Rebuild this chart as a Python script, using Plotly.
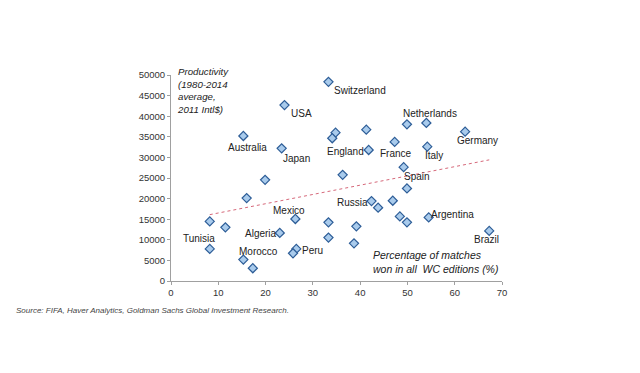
import plotly.graph_objects as go

countries = ["USA", "Australia", "Japan", "", "Switzerland", "", "", "", "England", "France",
             "", "Netherlands", "Germany", "Italy", "", "Spain", "", "", "", "",
             "Tunisia", "Mexico", "Algeria", "Peru", "", "Morocco", "", "Russia", "", "",
             "", "", "Argentina", "Brazil", "", "", "", ""]
win_pct = [24.0, 15.3, 23.4, 19.9, 33.3, 34.8, 34.1, 41.3, 41.8, 47.3,
           49.9, 54.0, 62.2, 54.2, 36.3, 49.2, 49.9, 16.0, 8.2, 11.5,
           8.2, 26.3, 23.0, 26.5, 25.8, 15.3, 17.3, 42.4, 43.8, 46.9,
           48.4, 49.9, 54.5, 67.3, 33.3, 33.3, 39.2, 38.7]
productivity = [42700, 35200, 32200, 24560, 48350, 36000, 34650, 36740, 31800, 33760,
                38040, 38360, 36250, 32600, 25770, 27630, 22460, 20130, 14470, 13020,
                7790, 15050, 11660, 7790, 6730, 5200, 3100, 19400, 17790, 19480,
                15680, 14230, 15440, 12150, 14230, 10530, 13260, 9150]
trend_x = [8.2, 67.3]
trend_y = [16100, 29400]
x_ticks = [0, 10, 20, 30, 40, 50, 60, 70]
y_ticks = [0, 5000, 10000, 15000, 20000, 25000, 30000, 35000, 40000, 45000, 50000]

# label offsets from each marker, in screen pixels (styling)
label_offsets = {
    "USA": (17, 8), "Australia": (4, 12), "Japan": (15, 10), "Switzerland": (32, 9),
    "England": (-23, 2), "France": (1, 12), "Netherlands": (4, -9), "Germany": (12, 9),
    "Italy": (7, 9), "Spain": (13, 9), "Russia": (-19, 1), "Argentina": (24, -3),
    "Brazil": (-3, 9), "Mexico": (-6, -8), "Algeria": (-19, 1), "Peru": (16, 2),
    "Morocco": (15, -8), "Tunisia": (-11, -10),
}

FONT = "Liberation Sans, Arial, sans-serif"

fig = go.Figure()
fig.add_trace(go.Scatter(
    x=trend_x, y=trend_y, mode="lines",
    line=dict(color="#d6687a", width=1, dash="dot"),
    hoverinfo="skip", showlegend=False))
fig.add_trace(go.Scatter(
    x=win_pct, y=productivity, mode="markers",
    marker=dict(symbol="diamond", size=7, color="#a9cbec",
                line=dict(color="#2d5d97", width=1.2)),
    showlegend=False))

for name, xv, yv in zip(countries, win_pct, productivity):
    if not name:
        continue
    dx, dy = label_offsets[name]
    fig.add_annotation(x=xv, y=yv, xref="x", yref="y", text=name, showarrow=False,
                       xanchor="center", yanchor="middle", xshift=dx, yshift=-dy,
                       font=dict(family=FONT, size=10, color="#222222"))

fig.add_annotation(x=0, y=1, xref="paper", yref="paper", xanchor="left", yanchor="top",
                   xshift=4, yshift=11, align="left", showarrow=False,
                   text="<i>Productivity<br>(1980-2014<br>average,<br>2011 Intl$)</i>",
                   font=dict(family=FONT, size=9.7, color="#222222"))
fig.add_annotation(x=1, y=0, xref="paper", yref="paper", xanchor="right", yanchor="bottom",
                   xshift=-2, yshift=4, align="left", showarrow=False,
                   text="<i>Percentage of matches<br>won in all  WC editions (%)</i>",
                   font=dict(family=FONT, size=10.5, color="#222222"))
fig.add_annotation(x=0, y=0, xref="paper", yref="paper", xanchor="left", yanchor="top",
                   xshift=-157, yshift=-23, showarrow=False,
                   text="<i>Source: FIFA, Haver Analytics, Goldman Sachs Global Investment Research.</i>",
                   font=dict(family=FONT, size=8, color="#444444"))

fig.update_xaxes(range=[0, 70], tickvals=x_ticks, ticktext=[str(v) for v in x_ticks],
                 showgrid=False, zeroline=False,
                 showline=True, linecolor="#a0a0a0", linewidth=1,
                 ticks="outside", ticklen=3, tickcolor="#a0a0a0",
                 tickfont=dict(family=FONT, size=9.5, color="#333333"))
fig.update_yaxes(range=[0, 50000], tickvals=y_ticks, ticktext=[str(v) for v in y_ticks],
                 showgrid=False, zeroline=False,
                 showline=True, linecolor="#a0a0a0", linewidth=1,
                 ticks="outside", ticklen=3, tickcolor="#a0a0a0",
                 tickfont=dict(family=FONT, size=9.5, color="#333333"))
fig.update_layout(width=632, height=365, plot_bgcolor="white", paper_bgcolor="white",
                  margin=dict(l=163, r=138, t=67, b=92), showlegend=False)
fig.write_html("out.html")
